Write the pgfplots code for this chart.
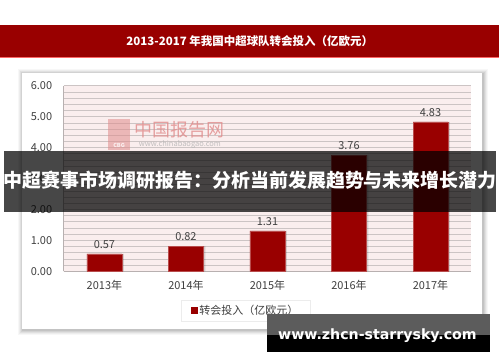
\documentclass[border=0pt]{standalone}
\usepackage{pgfplots}
\pgfplotsset{compat=1.18}
\usepackage{fontspec}
\setmainfont{Noto Sans CJK SC}
\newfontfamily\wmfont{DejaVu Sans}
\definecolor{barred}{HTML}{990000}
\definecolor{plotbg}{HTML}{FAEEEE}
\definecolor{gridgray}{HTML}{CCC4C4}
\definecolor{axisgray}{HTML}{B8B0B0}
\definecolor{labelgray}{HTML}{404040}
\definecolor{logored}{HTML}{E08A8A}
\definecolor{wmgray}{HTML}{5C5C5C}
\begin{document}
\begin{tikzpicture}[x=1pt,y=1pt]
\fill[white] (0,0) rectangle (500,362);
% title bar
\fill[barred] (0,304) rectangle (500,337);
\draw[red!60!white,line width=0.6pt] (0,304.3) -- (500,304.3);
\node[white,font=\bfseries\fontsize{11.5}{13}\selectfont] at (250,320.5) {2013-2017 年我国中超球队转会投入（亿欧元）};
% panel with soft shadow
\foreach \i/\o in {5/0.03,4/0.04,3/0.05,2/0.06,1/0.07}{
  \fill[black,opacity=\o] (22-\i+1,32-\i-1) rectangle (483+\i+1,289+\i-1);
}
\fill[white] (22,32) rectangle (483,289);
\begin{axis}[
  at={(63.5pt,90pt)}, anchor=south west,
  scale only axis, width=408.5pt, height=186pt,
  xmin=-0.5, xmax=4.5, ymin=0, ymax=6,
  xtick={0,1,2,3,4},
  xticklabels={2013年,2014年,2015年,2016年,2017年},
  ytick={0,1,2,3,4,5,6},
  yticklabel={\pgfmathprintnumber[fixed,fixed zerofill,precision=2]{\tick}},
  /pgf/number format/assume math mode=true,
  minor y tick num=4,
  ymajorgrids, yminorgrids,
  major grid style={draw=gridgray,line width=0.8pt},
  minor grid style={draw=gridgray,line width=0.8pt},
  axis background/.style={fill=plotbg},
  axis x line*=bottom, axis y line*=left,
  axis line style={draw=axisgray,line width=0.8pt},
  major tick length=0pt, minor tick length=0pt,
  tick label style={font=\fontsize{11}{13}\selectfont, text=labelgray},
  yticklabel style={xshift=-8pt},
  xticklabel style={yshift=-5pt},
  legend style={at={(0.447,-0.21)}, anchor=center, draw=gray!15, fill=white,
    font=\fontsize{11}{13}\selectfont, text=labelgray, inner xsep=10pt, inner ysep=3pt},
  legend image code/.code={\fill[barred] (0pt,-2.8pt) rectangle (5.6pt,2.8pt);},
  clip=false,
]
\addplot[ybar, bar width=35pt, bar shift=2pt, fill=black, opacity=0.14, draw=none, forget plot]
  coordinates {(0,0.57) (1,0.82) (2,1.31) (3,3.76) (4,4.83)};
\addplot[ybar, bar width=35pt, bar shift=0pt, fill=barred, draw=barred!70!white, line width=0.5pt,
  nodes near coords={\pgfmathprintnumber[fixed,fixed zerofill,precision=2]{\pgfplotspointmeta}},
  nodes near coords style={font=\fontsize{11}{13}\selectfont, text=labelgray, yshift=2pt}]
  coordinates {(0,0.57) (1,0.82) (2,1.31) (3,3.76) (4,4.83)};
\addlegendentry{转会投入（亿欧元）}
\end{axis}
% faint logo watermark
\fill[logored,opacity=0.55] (108,212) rectangle (130,243);
\node[white,font=\bfseries\fontsize{5.5}{6}\selectfont,opacity=0.8] at (119,216) {CBG};
\node[text=logored,opacity=0.8,font=\fontsize{18}{20}\selectfont] at (180,232) {中国报告网};
\node[text=gray!60,opacity=0.8,font=\fontsize{7.5}{9}\selectfont] at (180,217) {www.chinabaogao.com};
% overlay banner
\fill[black,opacity=0.72] (4,150) rectangle (497,211);
\node[white,font=\bfseries\fontsize{19}{21}\selectfont] at (250.5,181) {中超赛事市场调研报告：分析当前发展趋势与未来增长潜力};
% bottom watermark
\fill[wmgray] (267,26) rectangle (491,47);
\fill[black] (267,9) rectangle (491,26);
\node[white,font=\wmfont\bfseries\fontsize{14.2}{16}\selectfont] at (378,25.5) {www.zhcn-starrysky.com};
\end{tikzpicture}
\end{document}
